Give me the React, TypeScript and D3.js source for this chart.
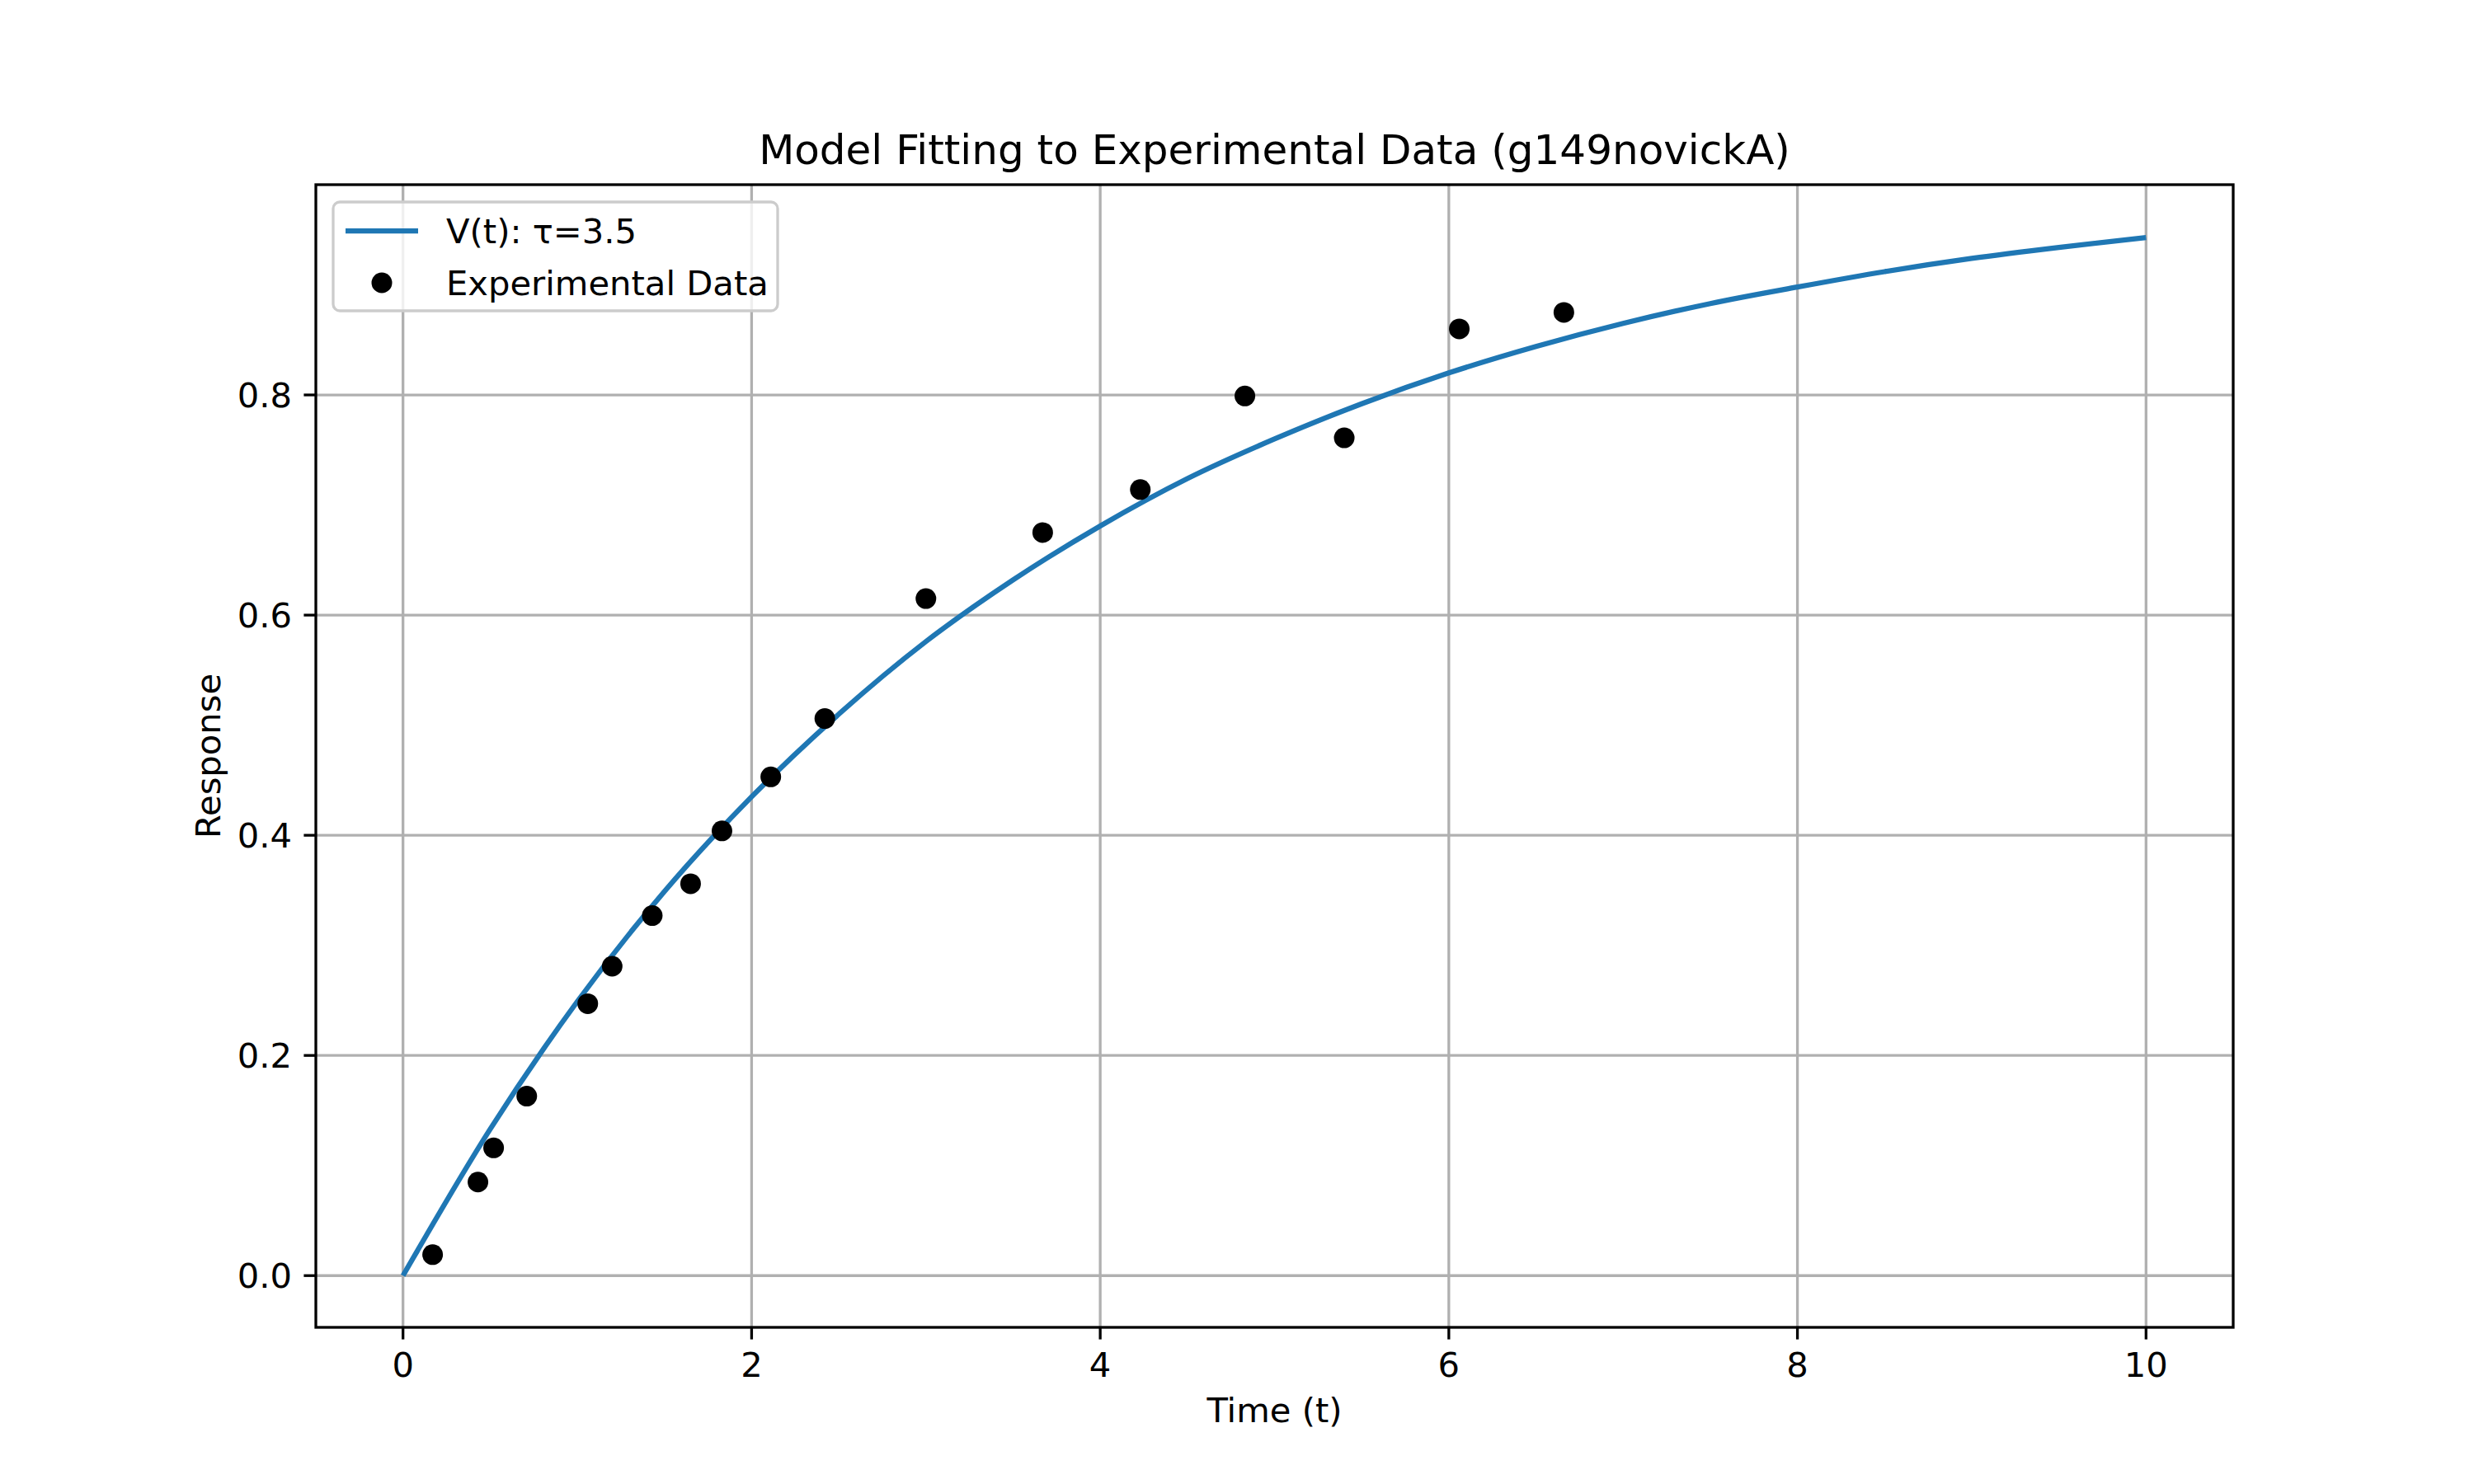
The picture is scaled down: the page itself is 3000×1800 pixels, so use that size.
import React from "react";
import * as d3 from "d3";

const fitT = [0, 0.5, 1, 1.5, 2, 2.5, 3, 3.5, 4, 4.5, 5, 5.5, 6, 6.5, 7, 7.5, 8, 8.5, 9, 9.5, 10];
const fitV = [0, 0.133, 0.249, 0.349, 0.435, 0.51, 0.576, 0.632, 0.681, 0.724, 0.76, 0.792, 0.82, 0.844, 0.865, 0.883, 0.898, 0.912, 0.924, 0.934, 0.943];
const dataT = [0.17, 0.43, 0.52, 0.71, 1.06, 1.2, 1.43, 1.65, 1.83, 2.11, 2.42, 3.0, 3.67, 4.23, 4.83, 5.4, 6.06, 6.66];
const dataV = [0.019, 0.085, 0.116, 0.163, 0.247, 0.281, 0.327, 0.356, 0.404, 0.453, 0.506, 0.615, 0.675, 0.714, 0.799, 0.761, 0.86, 0.875];
const xTicks = [0, 2, 4, 6, 8, 10];
const yTicks = [0, 0.2, 0.4, 0.6, 0.8];

const W = 3000, H = 1800;
const L = 375, R = 2700, T = 216, B = 1602;
const FS = 41.7;

export default function App() {
  const x = d3.scaleLinear().domain([-0.5, 10.5]).range([L, R]);
  const y = d3.scaleLinear().domain([-0.047, 0.991]).range([B, T]);
  const line = d3.line<number>().x((_, i) => x(fitT[i])).y((d) => y(d)).curve(d3.curveMonotoneX);
  return (
    <svg width={W} height={H} style={{ display: "block", background: "#fff", fontFamily: "DejaVu Sans" }}>
      <rect x={0} y={0} width={W} height={H} fill="#fff" />
      {xTicks.map((t) => (
        <g key={"x" + t}>
          <line x1={x(t)} x2={x(t)} y1={T} y2={B} stroke="#b0b0b0" strokeWidth={3.3} />
          <line x1={x(t)} x2={x(t)} y1={B} y2={B + 14.6} stroke="#000" strokeWidth={3.3} />
          <text x={x(t)} y={B + 29} fontSize={FS} textAnchor="middle" dominantBaseline="hanging">{t}</text>
        </g>
      ))}
      {yTicks.map((t) => (
        <g key={"y" + t}>
          <line x1={L} x2={R} y1={y(t)} y2={y(t)} stroke="#b0b0b0" strokeWidth={3.3} />
          <line x1={L - 14.6} x2={L} y1={y(t)} y2={y(t)} stroke="#000" strokeWidth={3.3} />
          <text x={L - 29} y={y(t)} fontSize={FS} textAnchor="end" dominantBaseline="central">{t.toFixed(1)}</text>
        </g>
      ))}
      <path d={line(fitV) ?? ""} fill="none" stroke="#1f77b4" strokeWidth={6.25} />
      {dataT.map((t, i) => (
        <circle key={i} cx={x(t)} cy={y(dataV[i])} r={12.5} fill="#000" />
      ))}
      <rect x={L} y={T} width={R - L} height={B - T} fill="none" stroke="#000" strokeWidth={3.3} />
      <g>
        <rect x={396} y={237} width={539} height={132} rx={8} fill="#fff" fillOpacity={0.8} stroke="#ccc" strokeWidth={3.3} />
        <line x1={411} x2={499} y1={272} y2={272} stroke="#1f77b4" strokeWidth={6.25} />
        <text x={533} y={272} fontSize={FS} dominantBaseline="central">V(t): τ=3.5</text>
        <circle cx={455} cy={335} r={12.5} fill="#000" />
        <text x={533} y={335} fontSize={FS} dominantBaseline="central">Experimental Data</text>
      </g>
      <text x={(L + R) / 2} y={191} fontSize={50} textAnchor="middle">Model Fitting to Experimental Data (g149novickA)</text>
      <text x={(L + R) / 2} y={1717} fontSize={FS} textAnchor="middle">Time (t)</text>
      <text transform={`translate(259,${(T + B) / 2}) rotate(-90)`} fontSize={FS} textAnchor="middle">Response</text>
    </svg>
  );
}
